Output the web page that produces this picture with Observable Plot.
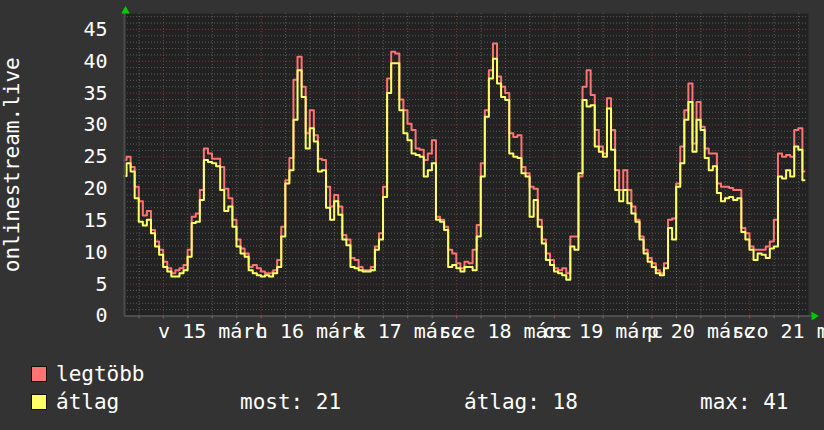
<!DOCTYPE html>
<html><head><meta charset="utf-8">
<script src="https://cdn.jsdelivr.net/npm/d3@7"></script>
<script src="https://cdn.jsdelivr.net/npm/@observablehq/plot@0.6"></script>
<style>
html,body{margin:0;padding:0;background:#333333;overflow:hidden;width:824px;height:430px;}
body{position:relative;font-family:"DejaVu Sans Mono",monospace;color:#fff;}
#chart{position:absolute;left:0;top:0;}
.sw{position:absolute;width:14px;height:14px;border:1px solid #111;}
.lt{position:absolute;font-size:21px;line-height:24px;white-space:pre;color:#fff;}
</style></head><body>
<div id="chart"></div>
<div id="legend"></div>
<script>
// ---- data (hourly values, first value at the left edge of the graph) ----
const seriesNames = ["legtöbb", "átlag"];
const seriesColors = ["#ff7373", "#ffff66"];
const maxVals = [
  24.5,25,23.4,20.3,18,15.8,16.5,13.5,11.7,10.4,8.5,7.5,6.7,7.2,7.5,8,10.4,15.6,16.1,19.8,
  26.3,25.5,24.7,24.7,23.4,20,18.5,15.1,12,10.6,9.8,7.7,8,7.5,7,6.7,6.7,7.2,8.8,14,
  21.3,24.8,37.1,40.7,36,28.7,32.3,28.4,24.7,24.5,20.3,17.2,19,17.2,12.7,12,9.1,8.8,7.7,7.2,
  7.2,7.7,10.9,13,20.3,37.3,41.5,41.2,34,32.3,30.2,29.2,26.3,26.1,24.5,25.5,27.6,15.6,15.1,14,
  10.4,9.8,8.3,7.5,8.5,8.3,10.4,14.3,24,32.3,38.6,42.8,37.6,36,35,28.7,28.1,28.4,23.4,22.4,
  20.3,20,15.1,12,9.8,8.8,7.5,7.2,7.5,6.7,12.5,12.5,21.9,36,38.6,34.7,29.2,26.6,25.5,34.2,
  29.2,22.9,19.8,22.9,19.8,17.2,15.1,12.5,10.4,9.1,8.3,7.2,6.7,8.3,15.1,15.3,20.8,26.6,32.3,36.5,
  27.1,33.6,29.7,26.3,25.5,25.5,20.8,20.3,20.3,20.1,19.8,19.8,13.8,13,10.9,10.4,10.4,10.4,10.9,11.7,
  15.1,25.5,25,25.3,25,29.2,29.5,22.7
];
const avgVals = [
  22,24,22.7,18.5,14.8,14.2,15.1,13,10.9,9.6,7.7,7,6.2,6.2,6.7,7.2,9.3,14.6,14.8,18.2,
  24.5,24.2,24,23.5,19.8,16.5,17.2,14,10.9,9.8,9.3,7.2,6.7,6.4,6.2,6.4,6.2,6.7,7.7,12.5,
  20.8,22.9,30.8,38.6,34.4,26.3,29.5,27.4,22.7,22.9,17,15.1,18,15.9,12,11.1,7.7,7.5,7.2,7,
  7,7.2,10.4,12,18.7,35,39.7,39.7,32.3,28.7,27.6,25.5,25.3,25,21.9,22.9,24,15.1,14.8,13.5,
  7.7,8,7.5,7,7.7,7.7,7.2,12.5,21.9,31.3,37.3,40.4,36.5,34.4,33.9,25.5,25,24.8,22.4,21.9,
  15.6,18.2,14,11.4,8.8,8,7,6.7,6.4,5.7,10.9,10.4,22.4,33.9,32.9,33.1,26.6,25.8,25,32.6,
  26.1,19.8,18,19.8,17.7,16.1,14.8,12,9.8,8.5,7.7,6.7,6.4,7.5,13.8,12,20.3,24,30.8,33.6,
  25.8,30.8,29.2,24.8,22.9,23.5,19.3,18,18.5,18.7,18.2,18.5,13.2,12,10.4,8.8,9.8,9.6,9.1,10.6,
  10.9,21.9,21.6,22.9,21.9,26.6,26.1,21.3
];
const yTicks = [0, 5, 10, 15, 20, 25, 30, 35, 40, 45];
const labelDays = [15, 16, 17, 18, 19, 20, 21];
const dayLabels = ["v 15 márc", "h 16 márc", "k 17 márc", "sze 18 márc", "cs 19 márc", "p 20 márc", "szo 21 márc"];
const yTitle = "onlinestream.live";
const statNames = ["most", "átlag", "max"];
const statValues = [21, 18, 41];

// ---- derived ----
const hour = 3600e3;
const t0 = Date.UTC(2026, 2, 14, 14, 26);
const t1 = t0 + 7 * 24 * hour;
const rows = maxVals.map((m, i) => ({time: new Date(t0 + i * hour), max: m, avg: avgVals[i]}));
const yTop = 47.5;
const minorY = d3.range(1, 48).filter(v => v % 5 !== 0);
const majorY = yTicks.filter(v => v > 0);
const majorX = d3.utcDay.range(new Date(t0), new Date(t1));
const minorX = d3.utcHour.every(6).range(new Date(t0), new Date(t1)).filter(d => d.getUTCHours() !== 0);
const labelTimes = labelDays.map(d => new Date(Date.UTC(2026, 2, d, 12)));
const FONT = "DejaVu Sans Mono";
const gridMinor = {stroke: "#a0a0a0", strokeOpacity: 0.45, strokeDasharray: "1,2"};
const gridMajor = {stroke: "#e05555", strokeOpacity: 0.45, strokeDasharray: "1,2"};
const axisColor = "#4c4c4c";

const plot = Plot.plot({
  width: 824, height: 350,
  marginLeft: 124, marginRight: 16, marginTop: 13, marginBottom: 34.5,
  style: {background: "transparent", fontFamily: FONT, fontSize: "20px", color: "#fff"},
  x: {type: "utc", domain: [new Date(t0), new Date(t1)]},
  y: {domain: [0, yTop]},
  marks: [
    Plot.frame({fill: "#222222", stroke: null}),
    Plot.ruleY(minorY, gridMinor),
    Plot.ruleX(minorX, gridMinor),
    Plot.ruleY(majorY, gridMajor),
    Plot.ruleX(majorX, gridMajor),
    Plot.line(rows, {x: "time", y: "max", stroke: seriesColors[0], strokeWidth: 2, curve: "step"}),
    Plot.line(rows, {x: "time", y: "avg", stroke: seriesColors[1], strokeWidth: 2, curve: "step"}),
    Plot.ruleX([new Date(t0)], {stroke: axisColor, strokeWidth: 2}),
    Plot.ruleY([0], {x1: new Date(t0), x2: new Date(t1 + 0.75 * hour), stroke: axisColor, strokeWidth: 2}),
    Plot.axisX({ticks: minorX, tickSize: 3, tickFormat: () => "", stroke: "#909090", strokeOpacity: 0.6, label: null}),
    Plot.axisX({ticks: majorX, tickSize: 3, tickFormat: () => "", stroke: "#dd5050", strokeOpacity: 0.7, label: null}),
    Plot.axisY({ticks: yTicks, tickSize: 0, tickPadding: 17, fontSize: 20, label: null}),
    Plot.axisX({ticks: labelTimes, tickSize: 0, tickPadding: 8, fontSize: 20, label: null,
      tickFormat: d => dayLabels[labelDays.indexOf(d.getUTCDate())]}),
    Plot.dot([{x: new Date(t1), y: 0}], {x: "x", y: "y", symbol: "triangle", rotate: 90, r: 3.2, fill: "#00cc00", dx: 5.5}),
    Plot.dot([{x: new Date(t0), y: yTop}], {x: "x", y: "y", symbol: "triangle", r: 3.2, fill: "#00cc00", dy: -2.5, dx: 1}),
    Plot.text([yTitle], {frameAnchor: "left", textAnchor: "middle", dx: -112, rotate: -90, fontSize: 21, fill: "#fff", text: d => d})
  ]
});
document.getElementById("chart").appendChild(plot);

// ---- legend ----
const lg = document.getElementById("legend");
function add(cls, left, top, text, bg) {
  const el = document.createElement("div");
  el.className = cls;
  el.style.left = left + "px";
  el.style.top = top + "px";
  if (text != null) el.textContent = text;
  if (bg) el.style.background = bg;
  lg.appendChild(el);
}
add("sw", 31, 366, null, seriesColors[0]);
add("lt", 56, 362, seriesNames[0]);
add("sw", 31, 394, null, seriesColors[1]);
add("lt", 56, 390, seriesNames[1]);
const statLefts = [240, 464, 700];
statNames.forEach((n, i) => add("lt", statLefts[i], 390, `${n}: ${statValues[i]}`));
</script>
</body></html>
